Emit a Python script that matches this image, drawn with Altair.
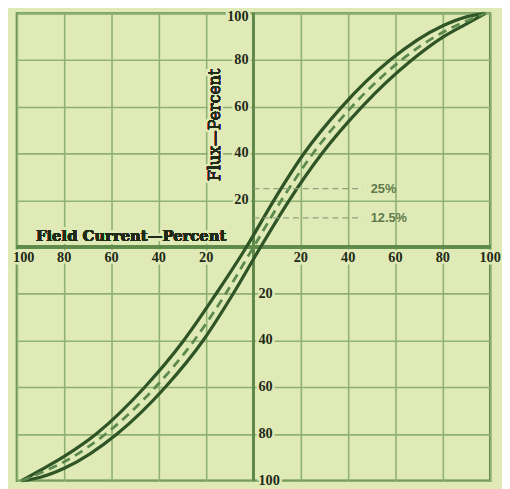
import altair as alt
import pandas as pd

BG = "#dfeab7"
GRID = "#8fb172"
FRAME = "#5f8a4c"
CURVE = "#2f5527"
MIDC = "#5c8a4e"
TXT = "#1f2b17"

domain = [-100, 100]
grid_vals = [-100, -80, -60, -40, -20, 0, 20, 40, 60, 80, 100]
x_ticks = [-80, -60, -40, -20, 20, 40, 60, 80, 100]
x_edge_ticks = [-100]
y_pos_ticks = [20, 40, 60, 80]
y_top_ticks = [100]
y_neg_ticks = [-20, -40, -60, -80, -100]

# upper / left solid branch
a_x = [-98, -90, -80, -66.5, -46, -29.5, -15.8, -3, 8.6, 21.3, 37.3, 57.7, 80, 90, 98]
a_y = [-100, -95.5, -89.6, -80, -60, -40, -20, 0, 20, 40, 60, 80, 94.7, 98.5, 100]
# lower / right solid branch
b_x = [-98, -90, -80, -57.7, -37.3, -21.3, -8.6, 3, 15.1, 28.9, 45.8, 66.9, 80, 90, 98]
b_y = [-100, -98.5, -94.7, -80, -60, -40, -20, 0, 20, 40, 60, 80, 89.8, 95.5, 100]
# dashed middle curve
m_x = [-98, -90, -80, -62.5, -41.5, -25.1, -11.8, 0, 11.8, 25.1, 41.5, 62.5, 80, 90, 98]
m_y = [-100, -96.7, -91.9, -80, -60, -40, -20, 0, 20, 40, 60, 80, 91.9, 96.7, 100]

ref_levels = [25, 12.5]
ref_labels = ["25%", "12.5%"]
ref_end = 46
ref_label_x = 49.5

x_title = "Field Current\u2014Percent"
x_title_pos = (-51.7, 4.6)
y_title = "Flux\u2014Percent"
y_title_pos = (-16.3, 52.3)

curves = pd.concat([
    pd.DataFrame({"x": a_x, "y": a_y, "branch": "A"}),
    pd.DataFrame({"x": b_x, "y": b_y, "branch": "B"}),
])
mid = pd.DataFrame({"x": m_x, "y": m_y})
refs = pd.DataFrame({"y": ref_levels, "label": ref_labels})


def lab_df(col, vals):
    return pd.DataFrame({col: vals, "t": [str(abs(v)) for v in vals]})


xlab = lab_df("x", x_ticks)
xedge = lab_df("x", x_edge_ticks)
ypos = lab_df("y", y_pos_ticks)
ytop = lab_df("y", y_top_ticks)
yneg = lab_df("y", y_neg_ticks)

xs = alt.Scale(domain=domain, nice=False, zero=False)
ys = alt.Scale(domain=domain, nice=False, zero=False)
xaxis = alt.Axis(values=grid_vals, grid=True, labels=False, ticks=False, domain=False,
                 title=None, gridColor=GRID, gridWidth=1.6, gridOpacity=1)
yaxis = alt.Axis(values=grid_vals, grid=True, labels=False, ticks=False, domain=False,
                 title=None, gridColor=GRID, gridWidth=1.6, gridOpacity=1)

X = lambda f: alt.X(f, scale=xs, axis=xaxis)
Y = lambda f: alt.Y(f, scale=ys, axis=yaxis)

base_curves = alt.Chart(curves).mark_line(
    color=CURVE, strokeWidth=3.3, interpolate="monotone"
).encode(x=X("x:Q"), y=Y("y:Q"), detail="branch:N")

mid_curve = alt.Chart(mid).mark_line(
    color=MIDC, strokeWidth=2.8, strokeDash=[9, 6], interpolate="monotone"
).encode(x=X("x:Q"), y=Y("y:Q"))

axis_h = alt.Chart(mid).mark_rule(color=FRAME, strokeWidth=2.6).encode(
    x=alt.datum(domain[0]), x2=alt.datum(domain[1]), y=alt.datum(0))
axis_v = alt.Chart(mid).mark_rule(color=FRAME, strokeWidth=2.4).encode(
    y=alt.datum(domain[0]), y2=alt.datum(domain[1]), x=alt.datum(0))

ref_rules = alt.Chart(refs).mark_rule(color="#8ea27e", strokeWidth=1.3, strokeDash=[6, 4]).encode(
    x=alt.datum(0), x2=alt.datum(ref_end), y=Y("y:Q"))
ref_text = alt.Chart(refs).mark_text(
    align="left", baseline="middle", font="Liberation Sans", fontWeight="bold",
    fontSize=13, color="#5f7a4c"
).encode(x=alt.datum(ref_label_x), y=Y("y:Q"), text="label:N")


def halo(chart_fn):
    return [chart_fn(stroke=BG, strokeWidth=5), chart_fn()]


tick_font = dict(font="Liberation Serif", fontWeight="bold", fontSize=14.5, color=TXT)

def xl(**kw):
    return alt.Chart(xlab).mark_text(baseline="middle", dy=11, **tick_font, **kw).encode(
        x=X("x:Q"), y=alt.datum(0), text="t:N")

def xle(**kw):
    return alt.Chart(xedge).mark_text(baseline="middle", dy=11, dx=7, **tick_font, **kw).encode(
        x=X("x:Q"), y=alt.datum(0), text="t:N")

def ylp(**kw):
    return alt.Chart(ypos).mark_text(align="right", baseline="middle", dx=-5, **tick_font, **kw).encode(
        x=alt.datum(0), y=Y("y:Q"), text="t:N")

def ylt(**kw):
    return alt.Chart(ytop).mark_text(align="right", baseline="middle", dx=-5, dy=4, **tick_font, **kw).encode(
        x=alt.datum(0), y=Y("y:Q"), text="t:N")

def yln(**kw):
    return alt.Chart(yneg).mark_text(align="left", baseline="middle", dx=5, **tick_font, **kw).encode(
        x=alt.datum(0), y=Y("y:Q"), text="t:N")

def xt(**kw):
    return alt.Chart(mid).mark_text(
        font="DejaVu Serif", fontWeight="bold", fontSize=15, color=TXT, baseline="middle", **kw
    ).encode(x=alt.datum(x_title_pos[0]), y=alt.datum(x_title_pos[1]), text=alt.value(x_title))

def yt(**kw):
    return alt.Chart(mid).mark_text(
        font="DejaVu Serif", fontSize=16, color=TXT, baseline="middle", angle=270, **kw
    ).encode(x=alt.datum(y_title_pos[0]), y=alt.datum(y_title_pos[1]), text=alt.value(y_title))

text_layers = []
for fn in (xl, xle, ylp, ylt, yln, xt, yt):
    text_layers += halo(fn)

layers = [axis_h, axis_v, base_curves, mid_curve, ref_rules, ref_text] + text_layers

chart = alt.layer(*layers).properties(
    width=480, height=474,
    autosize=alt.AutoSizeParams(type="none"),
    padding={"left": 9, "top": 2, "right": 12, "bottom": 5},
    background=BG,
).configure_view(stroke=FRAME, strokeWidth=2.4, fill=BG)

chart.save("out.html", embed_options={"renderer": "svg", "actions": False})
